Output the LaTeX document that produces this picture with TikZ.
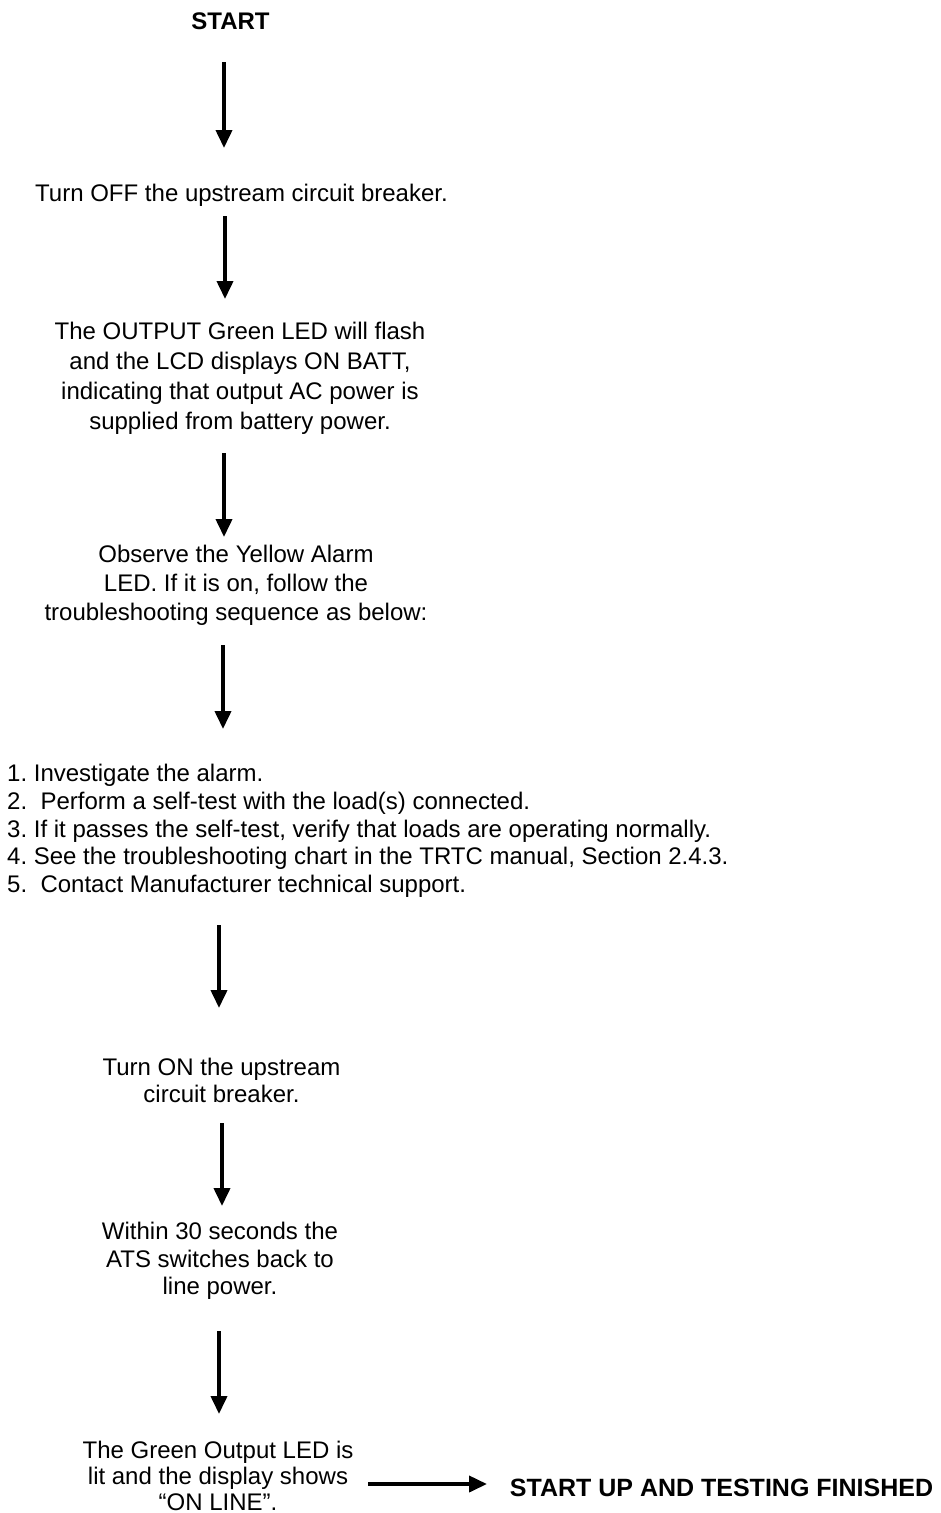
\documentclass[tikz,border=0pt]{standalone}
\usepackage{fontspec}
\setmainfont{Liberation Sans}
\usetikzlibrary{arrows.meta}
\tikzset{
    flow/.style={-{Triangle[width=16pt,length=18pt]}, line width=3.8pt},
    stage/.style={align=center, inner sep=0pt, font=\fontsize{24pt}{#1}\selectfont},
    stage/.default=30pt,
    banner/.style={inner sep=0pt, font=\fontsize{#1}{30pt}\selectfont\bfseries},
    banner/.default=24pt
}
\begin{document}
\frenchspacing
\begin{tikzpicture}[x=1pt, y=-1pt]
    \useasboundingbox (0,0) rectangle (940,1513);
    % steps of the flow
    \node[banner] (start) at (230.5,21) {START};
    \node[stage] (off) at (241.5,195) {Turn OFF the upstream circuit breaker.};
    \node[stage] (batt) at (240,378) {The OUTPUT Green LED will flash\\and the LCD displays ON BATT,\\indicating that output AC power is\\supplied from battery power.};
    \node[stage=29pt] (alarm) at (236,585) {Observe the Yellow Alarm\\LED. If it is on, follow the\\troubleshooting sequence as below:};
    \node[stage=27.7pt, align=left, anchor=west] (todo) at (7,831) {1. Investigate the alarm.\\2.\ \ Perform a self-test with the load(s) connected.\\3. If it passes the self-test, verify that loads are operating normally.\\4. See the troubleshooting chart in the TRTC manual, Section 2.4.3.\\5.\ \ Contact Manufacturer technical support.};
    \node[stage=27pt] (on) at (221.5,1080) {Turn ON the upstream\\circuit breaker.};
    \node[stage=27.5pt] (ats) at (220,1261) {Within 30 seconds the\\ATS switches back to\\line power.};
    \node[stage=26pt] (lit) at (218,1476) {The Green Output LED is\\lit and the display shows\\“ON LINE”.};
    \node[banner=25pt] (done) at (721.5,1488) {START UP AND TESTING FINISHED};
    % arrow ends
    \coordinate (t1) at (224,62);    \coordinate (h1) at (224,148);
    \coordinate (t2) at (225,216);   \coordinate (h2) at (225,299);
    \coordinate (t3) at (224,453);   \coordinate (h3) at (224,537);
    \coordinate (t4) at (223,645);   \coordinate (h4) at (223,729);
    \coordinate (t5) at (219,925);   \coordinate (h5) at (219,1008);
    \coordinate (t6) at (222,1123);  \coordinate (h6) at (222,1206);
    \coordinate (t7) at (219,1331);  \coordinate (h7) at (219,1414);
    \coordinate (t8) at (368,1484);  \coordinate (h8) at (487,1484);
    \foreach \i in {1,...,8}
        \draw[flow] (t\i) -- (h\i);
\end{tikzpicture}
\end{document}
